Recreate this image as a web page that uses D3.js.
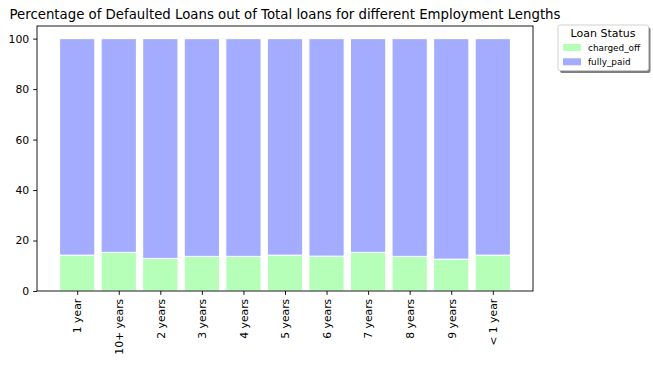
<!DOCTYPE html>
<html><head><meta charset="utf-8">
<script src="https://cdn.jsdelivr.net/npm/d3@7"></script>
<style>body{margin:0;background:#fff}svg{display:block}text{font-family:"DejaVu Sans",sans-serif}</style>
</head><body>
<svg id="c" width="653" height="365"></svg>
<script>
const categories = ["1 year","10+ years","2 years","3 years","4 years","5 years","6 years","7 years","8 years","9 years","< 1 year"];
const chargedOff = [14.2, 15.3, 12.9, 13.7, 13.7, 14.2, 13.8, 15.3, 13.7, 12.6, 14.2];
const fullyPaid = chargedOff.map(v => 100 - v);
const seriesNames = ["charged_off","fully_paid"];
const colors = ["#b5ffb9","#a3acff"];
const yTicks = [0,20,40,60,80,100];

const svg = d3.select("#c");
const L=37, R=533, T=26, B=291;
const barW = 0.85;
const x = d3.scaleLinear().domain([-0.5*barW - 0.05*(categories.length-1+barW), categories.length-1+0.5*barW + 0.05*(categories.length-1+barW)]).range([L,R]);
const y = d3.scaleLinear().domain([0,105]).range([B,T]);

const data = categories.map((c,i)=>({c, i, v:[chargedOff[i], fullyPaid[i]]}));
const g = svg.append("g");
data.forEach(d=>{
  let base=0;
  d.v.forEach((v,k)=>{
    g.append("rect")
      .attr("x", x(d.i-barW/2)).attr("width", x(d.i+barW/2)-x(d.i-barW/2))
      .attr("y", y(base+v)).attr("height", y(base)-y(base+v))
      .attr("fill", colors[k]).attr("stroke","#fff").attr("stroke-width",1.1);
    base+=v;
  });
});

// axes
const ya = svg.append("g").attr("transform",`translate(${L},0)`)
  .call(d3.axisLeft(y).tickValues(yTicks).tickSize(3.9).tickPadding(3.9));
const xa = svg.append("g").attr("transform",`translate(0,${B})`)
  .call(d3.axisBottom(x).tickValues(d3.range(categories.length)).tickFormat(i=>categories[i]).tickSize(3.9));
[ya,xa].forEach(a=>{a.select(".domain").remove(); a.selectAll("text").attr("font-size",10.8).attr("fill","#000").style("font-family","DejaVu Sans"); a.selectAll("line").attr("stroke","#000").attr("stroke-width",0.9);});
xa.selectAll("text").attr("transform","rotate(-90)").attr("text-anchor","end").attr("x",-7.8).attr("y",0).attr("dy","0.35em");
svg.append("rect").attr("x",L).attr("y",T).attr("width",R-L).attr("height",B-T).attr("fill","none").attr("stroke","#000").attr("stroke-width",0.9);

svg.append("text").attr("x",(L+R)/2).attr("y",19).attr("text-anchor","middle").attr("font-size",13.3).text("Percentage of Defaulted Loans out of Total loans for different Employment Lengths");

// legend
const lg = svg.append("g");
lg.append("rect").attr("x",560).attr("y",27.5).attr("width",90.5).attr("height",45.5).attr("fill","#808080").attr("rx",2);
lg.append("rect").attr("x",558).attr("y",25).attr("width",90.5).attr("height",45.5).attr("fill","#fff").attr("stroke","#ccc").attr("stroke-width",0.9).attr("rx",2);
lg.append("text").attr("x",603).attr("y",37).attr("text-anchor","middle").attr("font-size",11).text("Loan Status");
seriesNames.forEach((n,k)=>{
  const cy = 47.5 + k*14.3;
  lg.append("rect").attr("x",563).attr("y",cy-3.5).attr("width",18).attr("height",7).attr("fill",colors[k]);
  lg.append("text").attr("x",588).attr("y",cy).attr("dy","0.35em").attr("font-size",8.9).text(n);
});
</script>
</body></html>
